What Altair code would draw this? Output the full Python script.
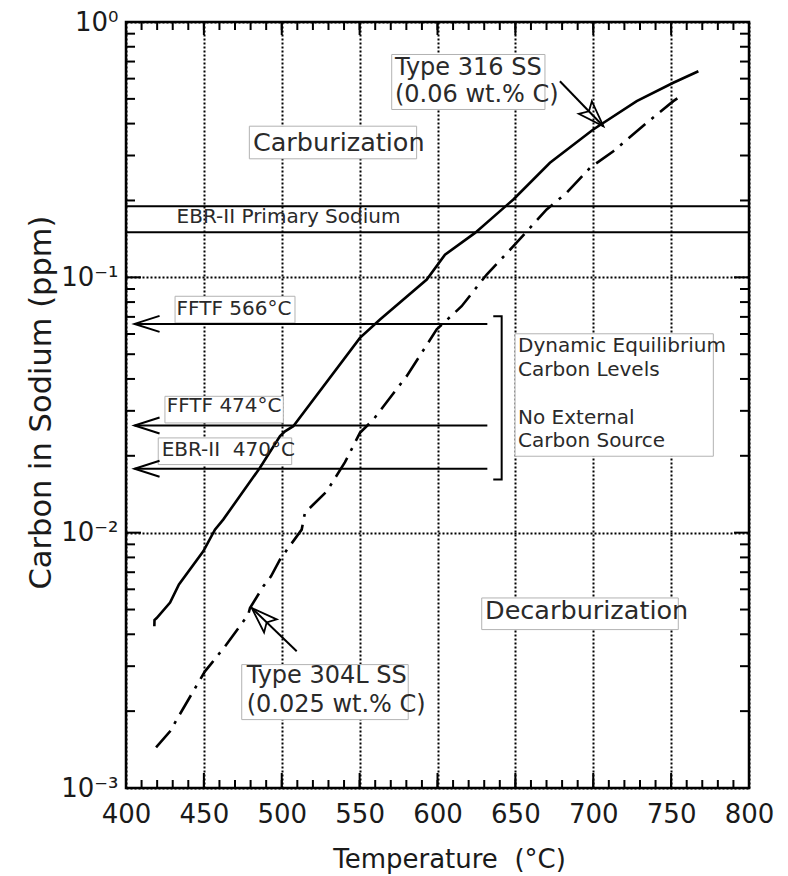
import altair as alt
import pandas as pd

# ---------------- data ----------------
# Type 316 SS (0.06 wt.% C) - solid curve
t316 = [418.2, 418.3, 419.7, 428.3, 434.0, 449.6, 457.1, 462.4, 486.0, 498.9, 502.1, 507.4,
        550.2, 563.1, 593.1, 604.8, 624.1, 648.7, 672.2, 700.0, 727.9, 751.4, 767.5]
c316 = [0.00430, 0.00455, 0.00463, 0.00532, 0.00627, 0.00845, 0.01028, 0.01125, 0.01795, 0.02388,
        0.02495, 0.02612, 0.05794, 0.06839, 0.09804, 0.1227, 0.1493, 0.2018, 0.2809, 0.3793,
        0.4898, 0.5781, 0.6412]

# Type 304L SS (0.025 wt.% C) - dash-dot curve
t304 = [419.3, 428.3, 432.6, 450.7, 455.4, 463.6, 478.5, 479.6, 488.2, 493.1, 498.9, 504.2,
        512.8, 514.9, 528.9, 540.6, 550.2, 558.8, 572.7, 580.2, 599.5, 615.5, 631.6, 648.7,
        670.1, 682.9, 697.9, 712.9, 734.3, 751.4, 757.8]
c304 = [0.001442, 0.001667, 0.001854, 0.002864, 0.003105, 0.003589, 0.004775, 0.005070,
        0.006166, 0.006745, 0.007852, 0.00871, 0.01028, 0.01197, 0.01452, 0.01888, 0.0246,
        0.02773, 0.03581, 0.04102, 0.06252, 0.07709, 0.1026, 0.1324, 0.1845, 0.2143, 0.2685,
        0.3119, 0.4027, 0.4898, 0.52]

# EBR-II primary sodium band (ppm)
ebr_band = [0.19, 0.15]

# dynamic-equilibrium carbon levels (arrows pointing to the axis)
eq_names = ["FFTF 566°C", "FFTF 474°C", "EBR-II\u00a0 470°C"]
eq_levels = [0.0657, 0.0263, 0.0178]
eq_from = [632.0, 632.0, 632.0]
eq_to = [405.5, 405.5, 405.5]

# bracket grouping the three levels
bracket_t = [635.8, 641.2, 641.2, 635.8]
bracket_c = [0.0704, 0.0704, 0.01614, 0.01614]

# axis ticks
x_major = [400, 450, 500, 550, 600, 650, 700, 750, 800]
x_minor = list(range(400, 801, 10))
y_major = [0.001, 0.01, 0.1, 1.0]
y_minor = [m * 10.0 ** k for k in (-3, -2, -1) for m in range(2, 10)]

# ---------------- annotations (data coordinates) ----------------
box_x = [479.2, 570.6, 431.5, 425.0, 420.7, 649.8, 628.4, 474.3]
box_x2 = [586.6, 669.0, 508.5, 501.0, 506.4, 777.1, 754.6, 581.2]
box_y = [0.3908, 0.746, 0.0843, 0.0342, 0.0235, 0.0601, 0.00555, 0.003043]
box_y2 = [0.2912, 0.4543, 0.0663, 0.0269, 0.01848, 0.01992, 0.004173, 0.001853]

big_text = ["Carburization", "Decarburization"]
big_x = [481.5, 630.5]
big_y = [0.337, 0.00492]

mid_text = ["Type 316 SS", "(0.06 wt.% C)", "Type 304L SS", "(0.025 wt.% C)"]
mid_x = [572.7, 572.7, 477.5, 477.5]
mid_y = [0.6616, 0.52, 0.00274, 0.002121]

small_text = ["EBR-II Primary Sodium", "FFTF 566°C", "FFTF 474°C", "EBR-II\u00a0 470°C",
              "Dynamic Equilibrium", "Carbon Levels", "No External", "Carbon Source"]
small_x = [432.5, 432.5, 426.1, 422.9, 651.7, 651.7, 651.7, 651.7]
small_y = [0.173, 0.0752, 0.0313, 0.02116, 0.0537, 0.0435, 0.02816, 0.0228]

# pointer arrows for the two curve labels
ptr_x = [678.6, 509.6]
ptr_y = [0.5862, 0.003431]
ptr_x2 = [706.5, 480.7]
ptr_y2 = [0.3906, 0.005074]
ptr_angle = [46, 224]

# ---------------- chart ----------------
W, H = 623, 766
FONT = "DejaVu Sans"
TXT = "#2a2a2a"

xs = alt.Scale(domain=[400, 800], nice=False, zero=False)
ys = alt.Scale(type="log", domain=[0.001, 1], nice=False)

x_axis = alt.Axis(values=x_major, title="Temperature\u00a0 (°C)", labelFont=FONT, labelFontSize=26,
                  labelColor="#1a1a1a", titleFont=FONT, titleFontSize=26, titleFontWeight="normal",
                  titleColor="#1a1a1a", ticks=False, tickSize=0, domain=False, grid=True,
                  gridDash=[2, 2], gridColor="black", gridWidth=2, gridOpacity=1,
                  labelPadding=13, labelFlush=False, labelOverlap=False,
                  titleX=323, titleY=79, titleBaseline="alphabetic")
y_axis = alt.Axis(values=y_major, title="Carbon in Sodium (ppm)",
                  labelExpr="datum.value > 0.5 ? '10⁰' : datum.value > 0.05 ? '10⁻¹' : datum.value > 0.005 ? '10⁻²' : '10⁻³'",
                  labelFont=FONT, labelFontSize=26, labelColor="#1a1a1a", titleFont=FONT,
                  titleFontSize=30.5, titleFontWeight="normal", titleColor="#1a1a1a", ticks=False,
                  tickSize=0, domain=False, grid=True, gridDash=[2, 2], gridColor="black",
                  gridWidth=2, gridOpacity=1, labelPadding=8, labelOverlap=False,
                  labelFlush=False, titleX=-85, titleY=380, titleBaseline="middle")


def X(f):
    return alt.X(f, type="quantitative", scale=xs, axis=x_axis)


def Y(f):
    return alt.Y(f, type="quantitative", scale=ys, axis=y_axis)


df316 = pd.DataFrame({"t": t316, "c": c316, "i": range(len(t316))})
df304 = pd.DataFrame({"t": t304, "c": c304, "i": range(len(t304))})
dfb = pd.DataFrame({"t": bracket_t, "c": bracket_c, "i": range(4)})
dfe = pd.DataFrame({"c": ebr_band})
dfq = pd.DataFrame({"name": eq_names, "c": eq_levels, "t0": eq_from, "t1": eq_to})
dfbox = pd.DataFrame({"x": box_x, "x2": box_x2, "y": box_y, "y2": box_y2})
dfbig = pd.DataFrame({"s": big_text, "x": big_x, "y": big_y})
dfmid = pd.DataFrame({"s": mid_text, "x": mid_x, "y": mid_y})
dfsmall = pd.DataFrame({"s": small_text, "x": small_x, "y": small_y})
dfptr = pd.DataFrame({"x": ptr_x, "y": ptr_y, "x2": ptr_x2, "y2": ptr_y2, "a": ptr_angle})
dfxmin = pd.DataFrame({"v": x_minor})
dfxmaj = pd.DataFrame({"v": x_major})
dfymin = pd.DataFrame({"v": y_minor})
dfymaj = pd.DataFrame({"v": y_major})

boxes = alt.Chart(dfbox).mark_rect(fill="white", stroke="#b3b3b3", strokeWidth=1).encode(
    x=X("x"), x2="x2", y=Y("y"), y2="y2")

ebr = alt.Chart(dfe).mark_rule(color="black", strokeWidth=2).encode(y=Y("c"))

eq_lines = alt.Chart(dfq).mark_rule(color="black", strokeWidth=2).encode(
    x=X("t0"), x2="t1", y=Y("c"))
eq_heads = alt.Chart(dfq).mark_point(
    shape="M 2 -0.64 L 0 0 L 2 0.64", size=625, filled=False, color="black",
    strokeWidth=2, opacity=1).encode(x=X("t1"), y=Y("c"))

bracket = alt.Chart(dfb).mark_line(color="black", strokeWidth=2).encode(
    x=X("t"), y=Y("c"), order="i:Q")

line316 = alt.Chart(df316).mark_line(color="black", strokeWidth=2.6).encode(
    x=X("t"), y=Y("c"), order="i:Q")
line304 = alt.Chart(df304).mark_line(color="black", strokeWidth=2.6,
                                     strokeDash=[22, 8, 3, 8]).encode(
    x=X("t"), y=Y("c"), order="i:Q")

ptr_lines = alt.Chart(dfptr).mark_rule(color="black", strokeWidth=2).encode(
    x=X("x"), y=Y("y"), x2="x2", y2="y2")
ptr_heads = alt.Chart(dfptr).mark_point(
    shape="M 0 0 L -2 -0.7 L -1.6 0 L -2 0.7 Z", size=676, filled=False, color="black",
    strokeWidth=1.8, opacity=1).encode(x=X("x2"), y=Y("y2"), angle=alt.Angle("a:Q", scale=None))

big = alt.Chart(dfbig).mark_text(align="left", baseline="middle", font=FONT, fontSize=25.5,
                                 color=TXT).encode(x=X("x"), y=Y("y"), text="s:N")
mid = alt.Chart(dfmid).mark_text(align="left", baseline="middle", font=FONT, fontSize=24,
                                 color=TXT).encode(x=X("x"), y=Y("y"), text="s:N")
small = alt.Chart(dfsmall).mark_text(align="left", baseline="middle", font=FONT, fontSize=20,
                                     color=TXT).encode(x=X("x"), y=Y("y"), text="s:N")

tk = dict(color="black", strokeWidth=2)
xt_top_min = alt.Chart(dfxmin).mark_rule(**tk).encode(x=X("v"), y=alt.value(0), y2=alt.value(8))
xt_top_maj = alt.Chart(dfxmaj).mark_rule(**tk).encode(x=X("v"), y=alt.value(0), y2=alt.value(13))
xt_bot_min = alt.Chart(dfxmin).mark_rule(**tk).encode(x=X("v"), y=alt.value(H), y2=alt.value(H - 8))
xt_bot_maj = alt.Chart(dfxmaj).mark_rule(**tk).encode(x=X("v"), y=alt.value(H), y2=alt.value(H - 15))
yt_l_min = alt.Chart(dfymin).mark_rule(**tk).encode(y=Y("v"), x=alt.value(0), x2=alt.value(9))
yt_l_maj = alt.Chart(dfymaj).mark_rule(**tk).encode(y=Y("v"), x=alt.value(0), x2=alt.value(15))
yt_r_min = alt.Chart(dfymin).mark_rule(**tk).encode(y=Y("v"), x=alt.value(W), x2=alt.value(W - 9))
yt_r_maj = alt.Chart(dfymaj).mark_rule(**tk).encode(y=Y("v"), x=alt.value(W), x2=alt.value(W - 15))

chart = alt.layer(
    boxes, ebr, eq_lines, eq_heads, bracket, line316, line304, ptr_lines, ptr_heads,
    big, mid, small,
    xt_top_min, xt_top_maj, xt_bot_min, xt_bot_maj, yt_l_min, yt_l_maj, yt_r_min, yt_r_maj,
).properties(
    width=W, height=H,
    autosize=alt.AutoSizeParams(type="none"),
    padding={"left": 126, "top": 22, "right": 39, "bottom": 88},
    background="white",
).configure_view(stroke="black", strokeWidth=2.5)

chart.save("out.html", embed_options={"renderer": "svg", "actions": False})
